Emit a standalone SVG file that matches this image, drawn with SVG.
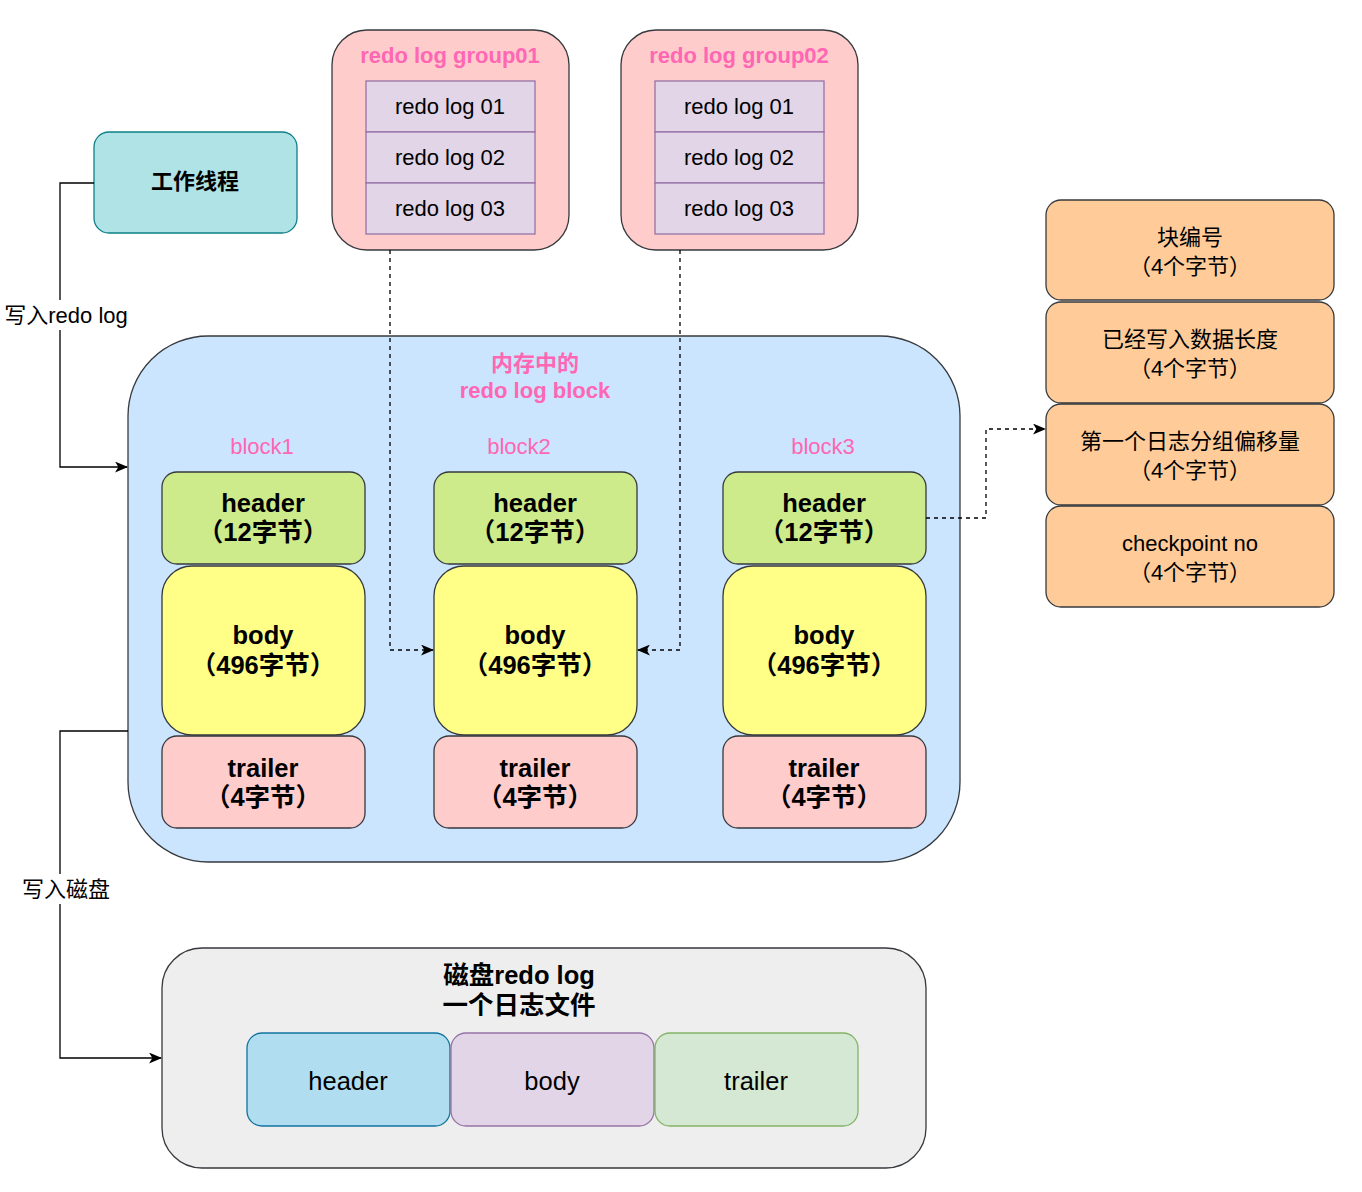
<svg xmlns="http://www.w3.org/2000/svg" width="1362" height="1192" viewBox="0 0 1362 1192">
<defs>
<style>
text{font-family:"Liberation Sans","Noto Sans CJK SC",sans-serif;text-anchor:middle;dominant-baseline:central;fill:#000}
.b{font-weight:bold}
.pink{fill:#ff66b3}
.s20{font-size:22px}
.s24{font-size:25.5px}
.dk{stroke:#36393d;stroke-width:1.3}
.log{fill:#e1d5e7;stroke:#9673a6;stroke-width:1.3}
.hd{fill:#cdeb8b}
.bd{fill:#ffff88}
.tr{fill:#ffcccc}
.or{fill:#ffcc99}
.ln{fill:none;stroke:#000;stroke-width:1.3}
.dash{stroke-dasharray:4 4}
</style>
<marker id="arr" viewBox="0 0 12 10" refX="11" refY="5" markerWidth="13" markerHeight="11" markerUnits="userSpaceOnUse" orient="auto">
<path d="M0,0 L12,5 L0,10 L3,5 Z" fill="#000"/>
</marker>
</defs>

<g id="worker">
<rect x="94" y="132" width="203" height="101" rx="15" fill="#b0e3e6" stroke="#0e8088" stroke-width="1.3"/>
<text x="195" y="181" class="b s20">工作线程</text>
</g>

<g id="group01">
<rect x="332" y="30" width="237" height="220" rx="35" fill="#ffcccc" class="dk"/>
<text x="450" y="55" class="b s20 pink">redo log group01</text>
<rect x="366" y="81" width="169" height="51" class="log"/>
<text x="450" y="106" class="s20">redo log 01</text>
<rect x="366" y="132" width="169" height="51" class="log"/>
<text x="450" y="157" class="s20">redo log 02</text>
<rect x="366" y="183" width="169" height="51" class="log"/>
<text x="450" y="208" class="s20">redo log 03</text>
</g>

<g id="group02">
<rect x="621" y="30" width="237" height="220" rx="35" fill="#ffcccc" class="dk"/>
<text x="739" y="55" class="b s20 pink">redo log group02</text>
<rect x="655" y="81" width="169" height="51" class="log"/>
<text x="739" y="106" class="s20">redo log 01</text>
<rect x="655" y="132" width="169" height="51" class="log"/>
<text x="739" y="157" class="s20">redo log 02</text>
<rect x="655" y="183" width="169" height="51" class="log"/>
<text x="739" y="208" class="s20">redo log 03</text>
</g>

<g id="memory">
<rect x="128" y="336" width="832" height="526" rx="80" fill="#cce5ff" class="dk"/>
<text x="535" y="363" class="b s20 pink">内存中的</text>
<text x="535" y="390" class="b s20 pink">redo log block</text>
</g>

<g id="block1">
<text x="262" y="446" class="s20 pink">block1</text>
<rect x="162" y="472" width="203" height="92" rx="15" class="hd dk"/>
<text x="263" y="503" class="b s24">header</text>
<text x="263" y="532" class="b s24">（12字节）</text>
<rect x="162" y="566" width="203" height="169" rx="30" class="bd dk"/>
<text x="263" y="635" class="b s24">body</text>
<text x="263" y="665" class="b s24">（496字节）</text>
<rect x="162" y="736" width="203" height="92" rx="15" class="tr dk"/>
<text x="263" y="768" class="b s24">trailer</text>
<text x="263" y="797" class="b s24">（4字节）</text>
</g>

<g id="block2">
<text x="519" y="446" class="s20 pink">block2</text>
<rect x="434" y="472" width="203" height="92" rx="15" class="hd dk"/>
<text x="535" y="503" class="b s24">header</text>
<text x="535" y="532" class="b s24">（12字节）</text>
<rect x="434" y="566" width="203" height="169" rx="30" class="bd dk"/>
<text x="535" y="635" class="b s24">body</text>
<text x="535" y="665" class="b s24">（496字节）</text>
<rect x="434" y="736" width="203" height="92" rx="15" class="tr dk"/>
<text x="535" y="768" class="b s24">trailer</text>
<text x="535" y="797" class="b s24">（4字节）</text>
</g>

<g id="block3">
<text x="823" y="446" class="s20 pink">block3</text>
<rect x="723" y="472" width="203" height="92" rx="15" class="hd dk"/>
<text x="824" y="503" class="b s24">header</text>
<text x="824" y="532" class="b s24">（12字节）</text>
<rect x="723" y="566" width="203" height="169" rx="30" class="bd dk"/>
<text x="824" y="635" class="b s24">body</text>
<text x="824" y="665" class="b s24">（496字节）</text>
<rect x="723" y="736" width="203" height="92" rx="15" class="tr dk"/>
<text x="824" y="768" class="b s24">trailer</text>
<text x="824" y="797" class="b s24">（4字节）</text>
</g>

<g id="header-fields">
<rect x="1046" y="200" width="288" height="100" rx="15" class="or dk"/>
<text x="1190" y="237" class="s20">块编号</text>
<text x="1190" y="266" class="s20">（4个字节）</text>
<rect x="1046" y="302" width="288" height="101" rx="15" class="or dk"/>
<text x="1190" y="339" class="s20">已经写入数据长度</text>
<text x="1190" y="368" class="s20">（4个字节）</text>
<rect x="1046" y="404" width="288" height="101" rx="15" class="or dk"/>
<text x="1190" y="441" class="s20">第一个日志分组偏移量</text>
<text x="1190" y="470" class="s20">（4个字节）</text>
<rect x="1046" y="506" width="288" height="101" rx="15" class="or dk"/>
<text x="1190" y="543" class="s20">checkpoint no</text>
<text x="1190" y="572" class="s20">（4个字节）</text>
</g>

<g id="disk">
<rect x="162" y="948" width="764" height="220" rx="40" fill="#eeeeee" class="dk"/>
<text x="519" y="975" class="b s24">磁盘redo log</text>
<text x="519" y="1005" class="b s24">一个日志文件</text>
<rect x="247" y="1033" width="203" height="93" rx="15" fill="#b1ddf0" stroke="#10739e" stroke-width="1.3"/>
<text x="348" y="1081" class="s24">header</text>
<rect x="451" y="1033" width="203" height="93" rx="15" fill="#e1d5e7" stroke="#9673a6" stroke-width="1.3"/>
<text x="552" y="1081" class="s24">body</text>
<rect x="655" y="1033" width="203" height="93" rx="15" fill="#d5e8d4" stroke="#82b366" stroke-width="1.3"/>
<text x="756" y="1081" class="s24">trailer</text>
</g>

<g id="connectors">
<path d="M94,183 H60 V467 H127" class="ln" marker-end="url(#arr)"/>
<rect x="2" y="300" width="128" height="30" fill="#fff"/>
<text x="66" y="315" class="s20">写入redo log</text>
<path d="M128,731 H60 V1058 H161" class="ln" marker-end="url(#arr)"/>
<rect x="20" y="874" width="92" height="30" fill="#fff"/>
<text x="66" y="889" class="s20">写入磁盘</text>
<path d="M390,250 V650 H433" class="ln dash" marker-end="url(#arr)"/>
<path d="M680,250 V650 H638" class="ln dash" marker-end="url(#arr)"/>
<path d="M926,518 H986 V429 H1045" class="ln dash" marker-end="url(#arr)"/>
</g>
</svg>
